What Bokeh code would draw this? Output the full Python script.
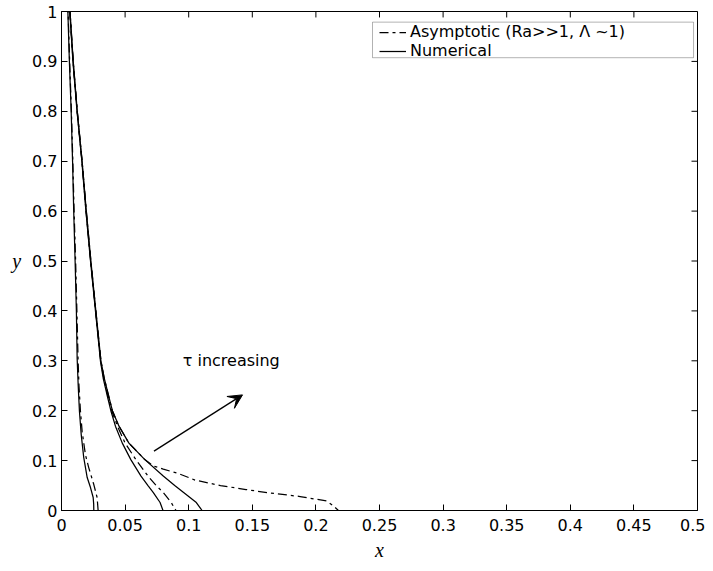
from bokeh.plotting import figure
from bokeh.models import (Range1d, FixedTicker, Legend, LegendItem,
                          Arrow, VeeHead, Label, BoxAnnotation)
from bokeh.embed import file_html
from bokeh.resources import INLINE

# ---------------- data ----------------
x_ticks = [0.0, 0.05, 0.1, 0.15, 0.2, 0.25, 0.3, 0.35, 0.4, 0.45, 0.5]
x_tick_labels = ["0", "0.05", "0.1", "0.15", "0.2", "0.25", "0.3", "0.35", "0.4", "0.45", "0.5"]
y_ticks = [0.0, 0.1, 0.2, 0.3, 0.4, 0.5, 0.6, 0.7, 0.8, 0.9, 1.0]
y_tick_labels = ["0", "0.1", "0.2", "0.3", "0.4", "0.5", "0.6", "0.7", "0.8", "0.9", "1"]

# tau 1 (earliest)
t1_num_y = [0.0, 0.013, 0.026, 0.046, 0.066, 0.106, 0.152, 0.199, 0.252, 0.305, 0.4, 0.5, 0.6, 0.7, 0.8, 0.9, 1.0]
t1_num_x = [0.0254, 0.0253, 0.0249, 0.0228, 0.0202, 0.0175, 0.0155, 0.0141, 0.0131, 0.0123, 0.0117, 0.0107, 0.0096, 0.0087, 0.0076, 0.0062, 0.0050]
t1_asy_y = [0.0, 0.026, 0.052, 0.086, 0.112, 0.159, 0.199, 0.252, 0.305, 0.4, 0.5, 0.6, 0.7, 0.8, 0.9, 1.0]
t1_asy_x = [0.0288, 0.0280, 0.0254, 0.0214, 0.0188, 0.0162, 0.0149, 0.0137, 0.0130, 0.0121, 0.0111, 0.0099, 0.0089, 0.0078, 0.0064, 0.0052]

# tau 2
t2_num_y = [1.0, 0.9, 0.8, 0.7, 0.6, 0.5, 0.4, 0.3, 0.265, 0.235, 0.2, 0.169, 0.135, 0.102, 0.069, 0.05, 0.036, 0.016, 0.0]
t2_num_x = [0.0065, 0.0090, 0.0122, 0.0160, 0.0192, 0.0228, 0.0267, 0.0306, 0.0328, 0.0355, 0.0388, 0.0424, 0.0478, 0.0545, 0.0625, 0.0680, 0.0722, 0.0775, 0.0798]
t2_asy_y = [1.0, 0.9, 0.8, 0.7, 0.6, 0.5, 0.4, 0.3, 0.265, 0.235, 0.2, 0.169, 0.135, 0.102, 0.069, 0.05, 0.036, 0.016, 0.0]
t2_asy_x = [0.0066, 0.0091, 0.0123, 0.0161, 0.0193, 0.0229, 0.0268, 0.0308, 0.0332, 0.0360, 0.0395, 0.0440, 0.0500, 0.0585, 0.0680, 0.0745, 0.0800, 0.0862, 0.0900]

# tau 3 (latest)
t3_num_y = [1.0, 0.9, 0.8, 0.7, 0.6, 0.5, 0.4, 0.3, 0.265, 0.235, 0.2, 0.169, 0.135, 0.102, 0.069, 0.05, 0.036, 0.016, 0.0]
t3_num_x = [0.0067, 0.0092, 0.0124, 0.0162, 0.0195, 0.0231, 0.0270, 0.0310, 0.0336, 0.0365, 0.0400, 0.0452, 0.0530, 0.0655, 0.0800, 0.0890, 0.0960, 0.1060, 0.1105]
t3_asy_y = [1.0, 0.9, 0.8, 0.7, 0.6, 0.5, 0.4, 0.3, 0.265, 0.235, 0.2, 0.169, 0.135, 0.102, 0.089, 0.083, 0.074, 0.061, 0.05, 0.042, 0.036, 0.028, 0.019, 0.009, 0.0]
t3_asy_x = [0.0067, 0.0092, 0.0124, 0.0162, 0.0195, 0.0231, 0.0270, 0.0310, 0.0336, 0.0365, 0.0400, 0.0452, 0.0530, 0.0655, 0.0725, 0.0800, 0.0920, 0.1050, 0.1250, 0.1450, 0.1615, 0.1876, 0.2085, 0.2140, 0.2177]

legend_labels = ["Asymptotic (Ra>>1, \u039b ~1)", "Numerical"]
annotation_text = "\u03c4 increasing"

# ---------------- figure ----------------
FONT = "DejaVu Sans"
FRAME_W, FRAME_H = 636, 502
p = figure(width=705, height=563, x_range=Range1d(0, 0.5), y_range=Range1d(0, 1),
           output_backend="svg", toolbar_location=None,
           min_border_left=61, min_border_right=8, min_border_top=11, min_border_bottom=50)
p.grid.visible = False
p.outline_line_color = "black"
p.outline_line_width = 1
p.background_fill_color = "white"
p.border_fill_color = "white"

for ax, ticks, labels in ((p.xaxis[0], x_ticks, x_tick_labels), (p.yaxis[0], y_ticks, y_tick_labels)):
    ax.ticker = FixedTicker(ticks=ticks)
    ax.major_label_overrides = dict(zip(ticks, labels))
    ax.major_tick_in = 6
    ax.major_tick_out = 0
    ax.minor_tick_line_color = None
    ax.axis_line_color = "black"
    ax.major_tick_line_color = "black"
    ax.major_label_text_font = FONT
    ax.major_label_text_font_size = "16px"
    ax.major_label_text_color = "black"
    ax.axis_label_text_font = "Liberation Serif"
    ax.axis_label_text_font_style = "italic"
    ax.axis_label_text_font_size = "20px"
    ax.axis_label_text_color = "black"

p.xaxis.axis_label = "x"
p.xaxis.major_label_standoff = 8
p.xaxis.axis_label_standoff = 5
p.yaxis.axis_label = "y"
p.yaxis.major_label_standoff = 4
p.yaxis.axis_label_standoff = 8
if "axis_label_orientation" in p.yaxis[0].properties():
    p.yaxis[0].axis_label_orientation = "horizontal"

# inward box ticks on the top and right edges, from the tick arrays
tick_len_y = 6.0 / FRAME_H
tick_len_x = 6.0 / FRAME_W * 0.5
p.segment(x0=x_ticks, x1=x_ticks, y0=[1.0] * len(x_ticks), y1=[1.0 - tick_len_y] * len(x_ticks),
          line_color="black", line_width=1)
p.segment(x0=[0.5] * len(y_ticks), x1=[0.5 - tick_len_x] * len(y_ticks), y0=y_ticks, y1=y_ticks,
          line_color="black", line_width=1)

LW = 1.25
DASH = "9 4 3 4"
r1a = p.line(t1_asy_x, t1_asy_y, line_color="black", line_width=LW, line_dash=DASH)
r1n = p.line(t1_num_x, t1_num_y, line_color="black", line_width=LW)
p.line(t2_asy_x, t2_asy_y, line_color="black", line_width=LW, line_dash=DASH)
p.line(t2_num_x, t2_num_y, line_color="black", line_width=LW)
p.line(t3_asy_x, t3_asy_y, line_color="black", line_width=LW, line_dash=DASH)
p.line(t3_num_x, t3_num_y, line_color="black", line_width=LW)

# legend box
p.add_layout(BoxAnnotation(left=0.2445, right=0.4969, bottom=0.9074, top=0.9787,
                           fill_color="white", fill_alpha=1.0,
                           line_color="black", line_width=1))
legend = Legend(items=[LegendItem(label=legend_labels[0], renderers=[r1a]),
                       LegendItem(label=legend_labels[1], renderers=[r1n])],
                location=(318, 450), margin=0, padding=4, spacing=-2,
                glyph_width=27, glyph_height=16, label_standoff=4,
                label_height=16,
                label_text_font=FONT, label_text_font_size="16px",
                label_text_color="black",
                border_line_color=None, background_fill_alpha=0)
p.add_layout(legend)

p.add_layout(Arrow(end=VeeHead(size=14, fill_color="black", line_color="black"),
                   x_start=0.0727, y_start=0.119, x_end=0.1423, y_end=0.2317,
                   line_color="black", line_width=1.3))
p.add_layout(Label(x=0.0953, y=0.301, text=annotation_text, text_font=FONT,
                   text_font_size="16px", text_baseline="middle", text_color="black"))

open("out.html", "w").write(file_html(p, INLINE))
